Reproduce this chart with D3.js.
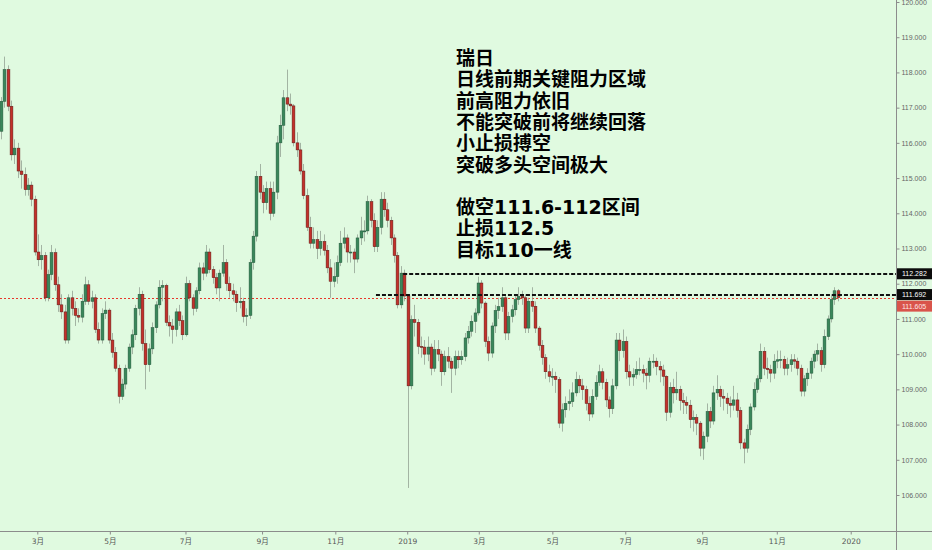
<!DOCTYPE html>
<html><head><meta charset="utf-8">
<script src="https://cdn.jsdelivr.net/npm/d3@7"></script>
<style>
html,body{margin:0;padding:0;background:#e0fae0;overflow:hidden;}
svg{display:block;}
</style></head>
<body><svg id="c" width="932" height="550"></svg>
<script>
// bar values (2 trading days per bar): [open, high, low, close]
const ohlc = [
[116.33,117.3,116.1,117.18],[117.18,118.45,117.0,118.08],[118.08,118.2,116.9,117.04],[117.04,117.2,115.5,115.66],
[115.66,116.1,115.4,115.85],[115.85,116.0,115.0,115.2],[115.2,115.5,114.7,115.1],[115.1,115.3,114.5,114.67],
[114.67,115.0,114.5,114.8],[114.8,114.9,114.2,114.4],[114.4,114.5,112.8,112.9],[112.9,113.4,112.5,112.68],
[112.68,113.1,112.4,112.8],[112.8,112.9,111.5,111.6],[111.6,112.4,111.5,112.26],[112.26,113.1,112.1,112.88],
[112.88,113.0,111.8,111.97],[111.97,112.2,111.2,111.4],[111.4,111.7,111.0,111.2],[111.2,111.4,110.3,110.4],
[110.4,111.7,110.3,111.6],[111.6,111.8,111.1,111.3],[111.3,111.5,110.8,111.1],[111.1,111.3,110.9,111.05],
[111.05,111.7,110.9,111.5],[111.5,112.2,111.4,111.97],[111.97,112.1,111.4,111.5],[111.5,111.8,111.3,111.6],
[111.6,111.7,110.6,110.7],[110.7,110.9,110.3,110.4],[110.4,111.3,110.3,111.15],[111.15,111.5,111.0,111.25],
[111.25,111.3,110.3,110.4],[110.4,110.6,109.9,110.05],[110.05,110.2,109.5,109.6],[109.6,109.7,108.6,108.8],
[108.8,109.3,108.7,109.15],[109.15,109.7,109.0,109.6],[109.6,110.3,109.5,110.2],[110.2,110.7,110.0,110.55],
[110.55,111.4,110.4,111.3],[111.3,111.9,111.1,111.7],[111.7,111.8,110.1,110.3],[110.3,110.7,109.0,109.7],
[109.7,110.3,109.5,110.15],[110.15,110.9,110.0,110.75],[110.75,111.5,110.6,111.4],[111.4,112.1,111.3,111.9],
[111.9,112.1,111.5,111.95],[111.95,112.0,110.8,110.9],[110.9,111.1,110.5,110.8],[110.8,111.0,110.3,110.7],
[110.7,111.3,110.5,111.2],[111.2,111.4,110.8,110.95],[110.95,111.1,110.4,110.55],[110.55,112.2,110.5,112.0],
[112.0,112.1,111.5,111.6],[111.6,111.7,111.1,111.3],[111.3,111.9,111.2,111.8],[111.8,112.6,111.7,112.45],
[112.45,112.6,112.1,112.3],[112.3,113.1,112.2,112.9],[112.9,113.0,112.3,112.4],[112.4,112.5,112.0,112.17],
[112.17,112.3,111.7,111.88],[111.88,112.4,111.5,112.3],[112.3,113.1,112.2,112.6],[112.6,112.7,111.8,112.0],
[112.0,112.2,111.6,111.8],[111.8,112.0,111.5,111.7],[111.7,111.8,111.2,111.46],[111.46,111.9,111.3,111.5],
[111.5,111.6,110.9,111.07],[111.07,111.3,110.8,111.1],[111.1,112.7,111.0,112.6],[112.6,113.5,112.4,113.35],
[113.35,115.2,113.2,115.05],[115.05,115.4,114.4,114.6],[114.6,114.8,114.0,114.3],[114.3,114.9,114.1,114.7],
[114.7,114.9,113.8,114.0],[114.0,114.9,113.9,114.6],[114.6,116.2,114.4,116.0],[116.0,116.8,115.6,116.5],
[116.5,117.5,116.1,117.28],[117.28,118.08,116.9,117.1],[117.1,117.4,116.8,117.05],[117.05,117.1,115.9,116.0],
[116.0,116.3,115.6,115.8],[115.8,116.0,115.1,115.2],[115.2,115.4,114.4,114.5],[114.5,114.7,113.5,113.6],
[113.6,113.9,113.0,113.15],[113.15,113.6,113.0,113.25],[113.25,113.5,112.7,113.0],[113.0,113.5,112.8,113.2],
[113.2,113.4,112.8,112.95],[112.95,113.1,112.3,112.45],[112.45,112.7,111.6,112.07],[112.07,112.6,111.9,112.2],
[112.2,112.8,112.0,112.6],[112.6,113.5,112.5,113.15],[113.15,113.6,113.0,113.3],[113.3,113.4,112.6,112.9],
[112.9,113.1,112.6,112.9],[112.9,113.0,112.3,112.7],[112.7,113.4,112.6,113.3],[113.3,113.9,113.1,113.5],
[113.5,113.8,113.2,113.5],[113.5,114.5,113.4,114.33],[114.33,114.4,113.6,113.8],[113.8,114.0,112.9,113.05],
[113.05,113.8,112.9,113.6],[113.6,114.6,113.4,114.4],[114.4,114.6,113.9,114.1],[114.1,114.3,113.6,113.8],
[113.8,113.9,113.1,113.3],[113.3,113.4,112.6,112.8],[112.8,112.9,111.3,111.4],[111.4,112.5,111.3,112.3],
[112.3,112.4,111.5,111.65],[111.65,111.7,106.2,109.1],[109.1,111.1,109.0,110.98],[110.98,111.4,110.5,110.9],
[110.9,111.0,110.0,110.22],[110.22,110.5,109.9,110.2],[110.2,110.4,109.7,110.0],[110.0,110.5,109.8,110.2],
[110.2,110.3,109.4,109.6],[109.6,110.4,109.5,110.13],[110.13,110.4,109.8,110.0],[110.0,110.1,109.1,109.5],
[109.5,110.1,109.4,109.93],[109.93,110.2,109.6,109.8],[109.8,109.9,108.9,109.6],[109.6,110.1,109.4,109.93],
[109.93,110.1,109.6,109.84],[109.84,110.1,109.7,109.93],[109.93,110.6,109.8,110.46],[110.46,110.8,110.3,110.65],
[110.65,111.1,110.5,110.93],[110.93,111.3,110.6,111.17],[111.17,112.2,111.1,112.02],[112.02,112.1,111.3,111.45],
[111.45,111.5,110.2,110.36],[110.36,110.5,109.8,110.03],[110.03,110.9,109.9,110.8],[110.8,111.4,110.6,111.24],
[111.24,111.6,111.0,111.35],[111.35,111.9,111.2,111.6],[111.6,111.7,110.4,110.6],[110.6,111.2,110.4,111.07],
[111.07,111.4,110.9,111.26],[111.26,111.7,111.1,111.55],[111.55,111.9,111.4,111.64],[111.64,111.8,111.4,111.6],
[111.6,111.7,110.6,110.74],[110.74,111.6,110.6,111.5],[111.5,111.9,111.2,111.36],[111.36,111.5,110.6,110.74],
[110.74,110.8,110.1,110.25],[110.25,110.4,109.7,109.9],[109.9,110.0,109.3,109.5],[109.5,109.7,109.2,109.37],
[109.37,109.6,109.1,109.37],[109.37,109.5,108.9,109.28],[109.28,109.35,107.9,108.04],[108.04,108.6,107.8,108.42],
[108.42,108.8,108.2,108.6],[108.6,109.0,108.4,108.65],[108.65,109.2,108.5,108.9],[108.9,109.5,108.8,109.28],
[109.28,109.4,108.9,109.1],[109.1,109.3,108.7,108.99],[108.99,109.1,108.4,108.6],[108.6,108.8,108.1,108.3],
[108.3,109.0,108.2,108.8],[108.8,109.4,108.7,109.2],[109.2,109.7,109.1,109.5],[109.5,109.6,109.0,109.2],
[109.2,109.3,108.5,108.7],[108.7,108.8,108.2,108.45],[108.45,109.3,108.3,109.1],[109.1,110.6,109.0,110.4],
[110.4,110.6,109.8,110.1],[110.1,110.7,109.9,110.36],[110.36,110.5,109.3,109.5],[109.5,109.7,109.1,109.35],
[109.35,109.6,109.1,109.42],[109.42,109.8,109.3,109.56],[109.56,109.9,109.4,109.56],[109.56,109.7,109.2,109.46],
[109.46,109.6,109.0,109.4],[109.4,109.9,109.2,109.8],[109.8,110.0,109.6,109.8],[109.8,109.9,109.4,109.65],
[109.65,109.8,109.2,109.55],[109.55,109.7,109.1,109.37],[109.37,109.4,108.1,108.35],[108.35,109.2,108.2,109.06],
[109.06,109.3,108.6,108.9],[108.9,109.5,108.7,109.0],[109.0,109.1,108.4,108.68],[108.68,108.9,108.3,108.63],
[108.63,108.8,108.3,108.55],[108.55,108.7,107.9,108.14],[108.14,108.4,107.8,108.2],[108.2,108.3,107.7,108.04],
[108.04,108.1,107.1,107.33],[107.33,107.8,107.0,107.67],[107.67,108.6,107.5,108.37],[108.37,108.5,107.9,108.1],
[108.1,109.1,108.0,108.9],[108.9,109.4,108.7,109.0],[109.0,109.1,108.5,108.8],[108.8,109.0,108.4,108.75],
[108.75,108.9,108.3,108.6],[108.6,108.8,108.2,108.55],[108.55,109.1,108.4,108.7],[108.7,108.9,108.2,108.4],
[108.4,108.5,107.3,107.48],[107.48,107.6,106.9,107.33],[107.33,108.0,107.2,107.86],[107.86,108.6,107.7,108.5],
[108.5,109.2,108.4,109.0],[109.0,109.4,108.9,109.3],[109.3,110.3,109.2,110.08],[110.08,110.2,109.4,109.6],
[109.6,109.9,109.3,109.56],[109.56,109.7,109.2,109.46],[109.46,110.0,109.3,109.8],[109.8,110.1,109.6,109.84],
[109.84,110.1,109.6,109.85],[109.85,109.95,109.4,109.6],[109.6,109.9,109.4,109.7],[109.7,110.0,109.5,109.84],
[109.84,110.0,109.6,109.8],[109.8,109.9,109.4,109.6],[109.6,109.7,108.8,108.95],[108.95,109.4,108.8,109.3],
[109.3,109.6,109.1,109.46],[109.46,109.9,109.3,109.8],[109.8,110.1,109.6,110.0],[110.0,110.3,109.8,110.1],
[110.1,110.2,109.5,109.7],[109.7,110.7,109.6,110.5],[110.5,111.1,110.4,111.0],[111.0,111.7,110.9,111.55],
[111.55,111.9,111.4,111.8],[111.8,111.85,111.5,111.605]
];
const tickLabels = ["3月","5月","7月","9月","11月","2019","3月","5月","7月","9月","11月","2020"];
const tickBars   = [10.8, 32.4, 54.9, 77.7, 99.5, 120.9, 142.2, 164.1, 185.8, 208.7, 230.9, 252.9];
const priceTicks = [106,107,108,109,110,111,112,113,114,115,116,117,118,119,120];
const levels = [ {v:112.282, from:119.7}, {v:111.692, from:111.6} ];
const lastPrice = 111.605;
const noteLines = ["瑞日","日线前期关键阻力区域","前高阻力依旧","不能突破前将继续回落","小止损搏空","突破多头空间极大","","做空111.6-112区间","止损112.5","目标110一线"];

const W = 932, H = 550, axisX = 896.5, axisY = 531.5;
const svg = d3.select("#c");
svg.append("rect").attr("width",W).attr("height",H).attr("fill","#e0fae0");

const x = d3.scaleLinear().domain([0, ohlc.length-1]).range([1, 837.6]);
const y = d3.scaleLinear().domain([106,120]).range([495, 2]);
const snap = v => Math.round(v) + 0.5;

const plot = svg.append("g");
// last price dotted line
plot.append("line").attr("x1",0).attr("x2",axisX).attr("y1",snap(y(lastPrice))).attr("y2",snap(y(lastPrice)))
  .attr("stroke","#e8372c").attr("stroke-width",1).attr("stroke-dasharray","2,2");

// wicks
plot.selectAll("line.wick").data(ohlc).join("line").attr("class","wick")
  .attr("x1",(d,i)=>snap(x(i))).attr("x2",(d,i)=>snap(x(i)))
  .attr("y1",d=>y(d[1])).attr("y2",d=>y(d[2]))
  .attr("stroke","#8f9c8f").attr("stroke-opacity",0.75).attr("stroke-width",1);
// bodies
const bw = 2.8;
plot.selectAll("rect.body").data(ohlc).join("rect").attr("class","body")
  .attr("x",(d,i)=>snap(x(i))-bw/2)
  .attr("y",d=>y(Math.max(d[0],d[3])))
  .attr("width",bw)
  .attr("height",d=>Math.max(1, Math.abs(y(d[0])-y(d[3]))))
  .attr("fill",d=>d[3]>=d[0] ? "#3a875a" : "#c4302b")
  .attr("stroke",d=>d[3]>=d[0] ? "#22573a" : "#5c1a16")
  .attr("stroke-width",0.5);

// resistance dashed levels
plot.selectAll("line.lvl").data(levels).join("line").attr("class","lvl")
  .attr("x1",d=>x(d.from)).attr("x2",axisX).attr("y1",d=>Math.round(y(d.v))).attr("y2",d=>Math.round(y(d.v)))
  .attr("stroke","#111").attr("stroke-width",2).attr("stroke-dasharray","4,2");

// axes lines
svg.append("line").attr("x1",0).attr("x2",W).attr("y1",axisY).attr("y2",axisY).attr("stroke","#8c8c8c").attr("stroke-width",1);
svg.append("line").attr("x1",axisX).attr("x2",axisX).attr("y1",0).attr("y2",H).attr("stroke","#8c8c8c").attr("stroke-width",1);

const ax = svg.append("g").attr("transform",`translate(0,${axisY})`)
  .call(d3.axisBottom(x).tickValues(tickBars).tickFormat((d,i)=>tickLabels[i]).tickSize(3).tickPadding(4));
ax.select(".domain").remove();
ax.selectAll("line").attr("stroke","#8c8c8c");
ax.selectAll("text").attr("fill","#555").style("font-family","'DejaVu Sans','Noto Sans CJK SC',sans-serif").style("font-size","7.5px");

const ay = svg.append("g").attr("transform",`translate(${axisX},0)`)
  .call(d3.axisRight(y).tickValues(priceTicks).tickFormat(d3.format(".3f")).tickSize(3).tickPadding(2));
ay.select(".domain").remove();
ay.selectAll("line").attr("stroke","#8c8c8c");
ay.selectAll("text").attr("fill","#666").style("font-family","'Liberation Sans',Arial,sans-serif").style("font-size","7px");

// price labels on axis
const tags = [
  {v:112.282, ty:y(112.282), bg:"#0c0c0c", fg:"#ffffff"},
  {v:111.692, ty:y(111.692), bg:"#0c0c0c", fg:"#ffffff"},
  {v:lastPrice, ty:y(lastPrice)+8.5, bg:"#d9544b", fg:"#ffe8e6"}
];
const tg = svg.selectAll("g.tag").data(tags).join("g").attr("class","tag")
  .attr("transform",d=>`translate(${axisX+0.5},${d.ty})`);
tg.append("rect").attr("x",0).attr("y",-5.5).attr("width",W-axisX).attr("height",11).attr("fill",d=>d.bg);
tg.append("text").attr("x",5).attr("y",0).attr("dy","0.35em").attr("fill",d=>d.fg)
  .style("font-family","'Liberation Sans',Arial,sans-serif").style("font-size","7px")
  .text(d=>d.v.toFixed(3));

// annotation
const note = svg.append("text").attr("x",456).attr("y",65)
  .style("font-family","'DejaVu Sans','Noto Sans CJK SC',sans-serif").style("font-weight","bold").style("font-size","19px").attr("fill","#000");
note.selectAll("tspan").data(noteLines).join("tspan").attr("x",456).attr("dy",(d,i)=>i===0?0:21.3).text(d=>d===""?" ":d);
</script></body></html>
